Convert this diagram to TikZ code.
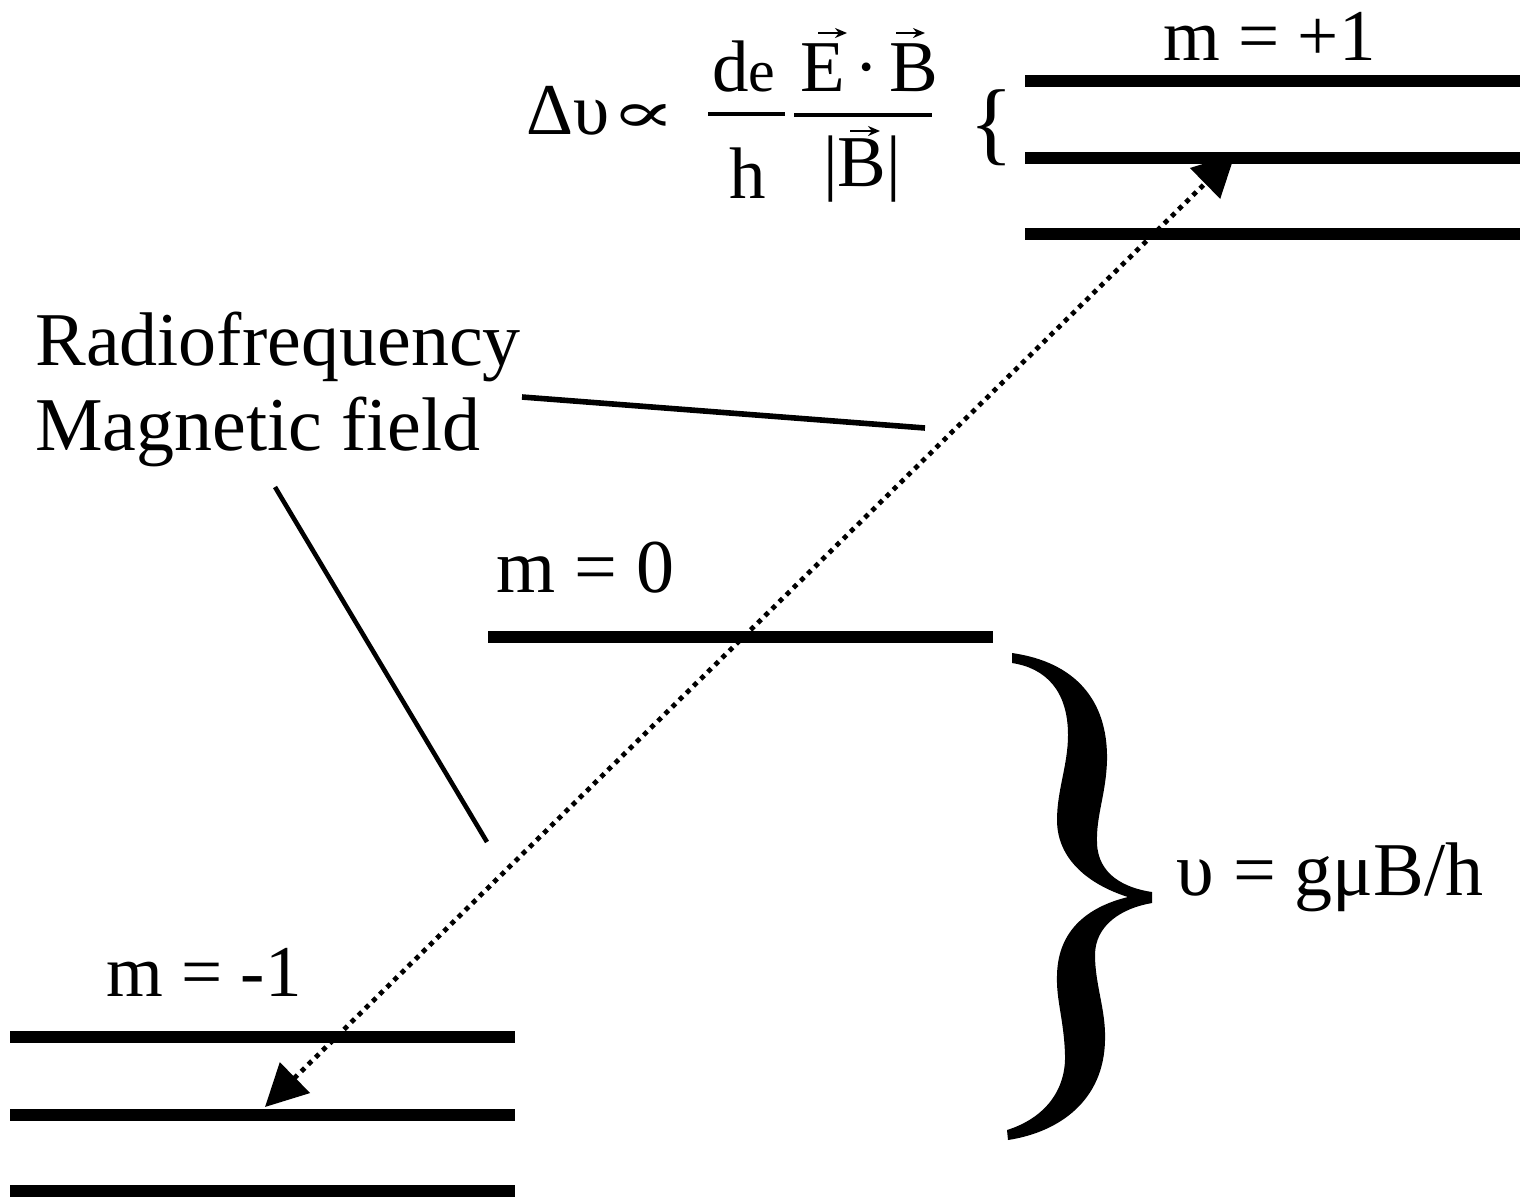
\documentclass[tikz,border=0pt]{standalone}
\usepackage{graphicx}
\usepackage{fontspec}
\setmainfont{Liberation Serif}
\newfontfamily\dejavu{DejaVu Serif}
\usetikzlibrary{arrows.meta}
\tikzset{
  lvl/.style={line width=6.3pt},
  lbl/.style={font=\fontsize{38}{42}\selectfont, inner sep=0pt},
  lbls/.style={font=\fontsize{36.5}{40}\selectfont, inner sep=0pt},
  lead/.style={line width=2.8pt},
  fbar/.style={line width=1.7pt},
  vecar/.style={line width=1.3pt, -{Stealth[length=6pt,width=5pt]}},
  trans/.style={line width=2.4pt, dash pattern=on 2.4pt off 2.6pt,
    {Triangle[length=21pt,width=21pt]}-{Triangle[length=21pt,width=21pt]}},
}
\begin{document}
\begin{tikzpicture}[x=0.5pt,y=-0.5pt]
\useasboundingbox (0,0) rectangle (1524,1196);
% energy levels
\coordinate (p1a) at (1025,81);  \coordinate (p1b) at (1520,81);
\coordinate (p2a) at (1025,158); \coordinate (p2b) at (1520,158);
\coordinate (p3a) at (1025,234); \coordinate (p3b) at (1520,234);
\coordinate (z1a) at (488,637);  \coordinate (z1b) at (993,637);
\coordinate (n1a) at (10,1037);  \coordinate (n1b) at (515,1037);
\coordinate (n2a) at (10,1115);  \coordinate (n2b) at (515,1115);
\coordinate (n3a) at (10,1191);  \coordinate (n3b) at (515,1191);
\draw[lvl] (p1a) -- (p1b);
\draw[lvl] (p2a) -- (p2b);
\draw[lvl] (p3a) -- (p3b);
\draw[lvl] (z1a) -- (z1b);
\draw[lvl] (n1a) -- (n1b);
\draw[lvl] (n2a) -- (n2b);
\draw[lvl] (n3a) -- (n3b);
% transition arrow
\coordinate (tlo) at (265,1107);
\coordinate (thi) at (1235,154);
\draw[trans] (tlo) -- (thi);
% labels
\node[lbl, anchor=base west] (rf) at (35,365) {Radiofrequency};
\node[lbl, anchor=base west] (mf) at (35,450) {Magnetic field};
\node[lbls, anchor=base west] (mp) at (1163,60) {m = +1};
\node[lbl, anchor=base west] (m0) at (496,592) {m = 0};
\node[lbls, anchor=base west] (mm) at (106,996) {m = -1};
\node[lbl, anchor=base west] (nu) at (1176,895) {υ = gμB/h};
% leader lines
\coordinate (l1a) at (522,397); \coordinate (l1b) at (925,428);
\coordinate (l2a) at (275,487); \coordinate (l2b) at (487,842);
\draw[lead] (l1a) -- (l1b);
\draw[lead, line width=2.3pt] (l2a) -- (l2b);
% formula
\node[lbls, anchor=base west] (dnu) at (526,134) {Δυ};
\node[inner sep=0pt, anchor=base west] (prop) at (610,132) {\resizebox{33pt}{14pt}{\dejavu ∝}};
\node[lbls, anchor=base west] (de) at (712,91) {d{\fontsize{30}{30}\selectfont e}};
\coordinate (b1a) at (708,114); \coordinate (b1b) at (785,114);
\draw[fbar] (b1a) -- (b1b);
\node[lbls, anchor=base] (hh) at (748,198) {h};
\node[lbls, anchor=base west] (eb) at (800,91) {E\kern5pt·\kern5pt B};
\coordinate (b2a) at (794,115); \coordinate (b2b) at (932,115);
\draw[fbar] (b2a) -- (b2b);
\node[lbls, anchor=base] (bm) at (862,186) {|B|};
\coordinate (va1) at (818,33); \coordinate (vb1) at (847,33);
\coordinate (va2) at (896,33); \coordinate (vb2) at (925,33);
\coordinate (va3) at (850,131); \coordinate (vb3) at (880,131);
\draw[vecar] (va1) -- (vb1);
\draw[vecar] (va2) -- (vb2);
\draw[vecar] (va3) -- (vb3);
% small brace
\node[inner sep=0pt, font=\fontsize{46}{46}\selectfont] (sb) at (992,128) {\{};
% big brace
\fill (1012,653) .. controls (1075,662) and (1108,700) .. (1107,760)
  .. controls (1106,795) and (1096,815) .. (1097,843)
  .. controls (1098,875) and (1125,888) .. (1152,892)
  -- (1152,903)
  .. controls (1122,908) and (1095,925) .. (1095,955)
  .. controls (1095,985) and (1106,1010) .. (1105,1040)
  .. controls (1104,1100) and (1060,1132) .. (1008,1140)
  -- (1007,1130)
  .. controls (1045,1118) and (1066,1090) .. (1065,1055)
  .. controls (1064,1020) and (1056,1000) .. (1057,975)
  .. controls (1058,925) and (1095,905) .. (1128,897)
  .. controls (1090,885) and (1057,860) .. (1057,820)
  .. controls (1057,790) and (1068,765) .. (1068,735)
  .. controls (1068,690) and (1045,668) .. (1012,663)
  -- cycle;
\end{tikzpicture}
\end{document}
